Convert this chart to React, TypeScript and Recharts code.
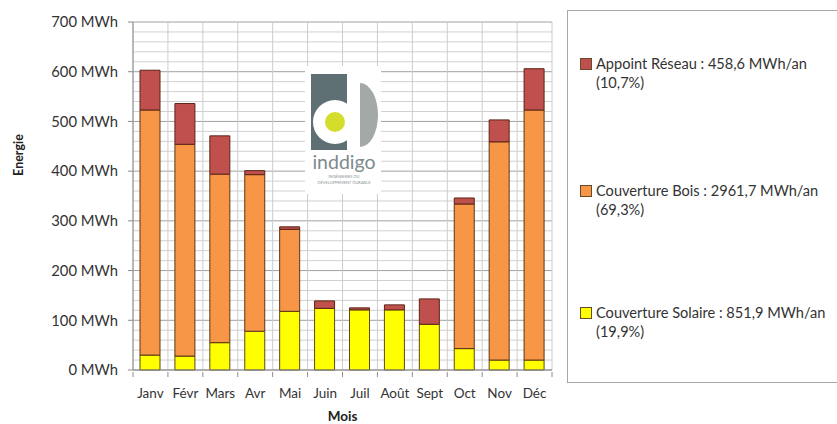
import React from 'react';
import { BarChart, Bar, XAxis, YAxis, CartesianGrid } from 'recharts';

// --- données ---
const months = ['Janv', 'Févr', 'Mars', 'Avr', 'Mai', 'Juin', 'Juil', 'Août', 'Sept', 'Oct', 'Nov', 'Déc'];
const solaire = [30, 28, 55, 78, 118, 124, 121, 121, 92, 43, 20, 20];
const bois = [493, 426, 339, 315, 165, 0, 0, 0, 0, 291, 439, 503];
const reseau = [80, 82, 77, 8, 5, 15, 4, 10, 51, 12, 44, 83];

const yTicks = [0, 100, 200, 300, 400, 500, 600, 700];
const minorLines = Array.from({ length: 36 }, (_, i) => i * 20);

const legendItems = [
  { label: 'Appoint Réseau : 458,6 MWh/an', pct: '(10,7%)', color: '#c0504d' },
  { label: 'Couverture Bois : 2961,7 MWh/an', pct: '(69,3%)', color: '#f79646' },
  { label: 'Couverture Solaire : 851,9 MWh/an', pct: '(19,9%)', color: '#ffff00' },
];

const data = months.map((m, i) => ({ mois: m, solaire: solaire[i], bois: bois[i], reseau: reseau[i] }));

const FONT = 'Lato, "Open Sans", sans-serif';

// grille secondaire tous les 20 MWh
const minorGrid = ({ offset }: any) =>
  minorLines.map((v) => offset.top + offset.height * (1 - v / yTicks[yTicks.length - 1]));

// lignes verticales aux limites des catégories
const boundaryGrid = ({ offset }: any) =>
  Array.from({ length: months.length + 1 }, (_, i) => offset.left + (i * offset.width) / months.length);

// lignes tous les 100 MWh plus foncées
const GridLine = (p: any) => (
  <line x1={p.x1} y1={p.y1} x2={p.x2} y2={p.y2}
    stroke={yTicks.includes(minorLines[p.index]) ? '#a0a0a0' : '#d0d0d0'} strokeWidth={1} />
);

const MonthTick = (props: any) => {
  const { x, y, payload, index } = props;
  const half = payload && payload.offset ? payload.offset : 17.5;
  return (
    <g>
      <line x1={x - half} x2={x - half} y1={y} y2={y + 5} stroke="#8c8c8c" />
      {index === months.length - 1 && <line x1={x + half} x2={x + half} y1={y} y2={y + 5} stroke="#8c8c8c" />}
      <text x={x} y={y + 16} dy="0.71em" textAnchor="middle" fontFamily={FONT} fontSize={13.5} fill="#333">
        {payload.value}
      </text>
    </g>
  );
};

const EnergieLabel = () => (
  <text x={18} y={155} transform="rotate(-90 18 155)" textAnchor="middle" dominantBaseline="central"
    fontFamily={FONT} fontSize={12.5} fontWeight={700} fill="#222">
    Energie
  </text>
);

const LegendBox = () => (
  <div style={{ position: 'absolute', left: 567, top: 10, width: 280, height: 373, border: '1px solid #a8a8a8', boxSizing: 'border-box', fontFamily: FONT, background: '#fff' }}>
    {legendItems.map((it, i) => (
      <div key={it.label} style={{ position: 'absolute', left: 12, top: [43, 170, 292][i], fontSize: 14.6, color: '#333', lineHeight: '19px', whiteSpace: 'nowrap' }}>
        <div style={{ display: 'flex', alignItems: 'center' }}>
          <span style={{ display: 'inline-block', width: 10, height: 10, background: it.color, border: '1px solid #6b4a2a', marginRight: 4 }} />
          {it.label}
        </div>
        <div style={{ paddingLeft: 16 }}>{it.pct}</div>
      </div>
    ))}
  </div>
);

const Logo = () => (
  <svg width={76} height={128} style={{ position: 'absolute', left: 305, top: 66 }}>
    <rect x={0} y={0} width={76} height={128} fill="#fff" />
    <rect x={6} y={8} width={36} height={76} fill="#5f7074" />
    <path d="M 55 17 A 18 32 0 0 1 55 81 Z" fill="#a3a9a8" />
    <circle cx={30} cy={56} r={22} fill="#fff" />
    <circle cx={30} cy={56} r={10} fill="#d4dc2c" />
    <text x={39} y={103} textAnchor="middle" fontFamily={FONT} fontSize={19.5} fill="#7d8a8b">inddigo</text>
    <text x={39} y={112} textAnchor="middle" fontFamily={FONT} fontSize={4} fill="#8a9394">INGÉNIERIES DU</text>
    <text x={39} y={118} textAnchor="middle" fontFamily={FONT} fontSize={4} fill="#8a9394">DÉVELOPPEMENT DURABLE</text>
  </svg>
);

const App: React.FC = () => {
  return (
    <div style={{ position: 'absolute', left: 0, top: 0, width: 837, height: 424, background: '#fff', overflow: 'hidden' }}>
      <BarChart width={560} height={424} data={data} margin={{ top: 22, right: 8, left: 38, bottom: 24 }} barSize={20}>
        <CartesianGrid horizontalCoordinatesGenerator={minorGrid} verticalCoordinatesGenerator={boundaryGrid}
          horizontal={GridLine} vertical={{ stroke: '#999' }} />
        <XAxis dataKey="mois" height={30} axisLine={{ stroke: '#8c8c8c' }} tickLine={false} tickSize={0}
          tick={<MonthTick />} interval={0}
          label={{ value: 'Mois', position: 'insideBottom', offset: -21, fontFamily: FONT, fontSize: 13.5, fontWeight: 700, fill: '#222' }} />
        <YAxis domain={[0, 700]} ticks={yTicks} width={95} axisLine={{ stroke: '#8c8c8c' }} tickLine={{ stroke: '#8c8c8c' }}
          tickSize={5} tickMargin={10} tickFormatter={(v: number) => `${v} MWh`}
          tick={{ fontFamily: FONT, fontSize: 14.8, fill: '#333' }}
          label={{ content: () => <EnergieLabel /> }} />
        <Bar dataKey="solaire" stackId="a" fill="#ffff00" stroke="#5b4a14" strokeWidth={1} isAnimationActive={false} />
        <Bar dataKey="bois" stackId="a" fill="#f79646" stroke="#5b3414" strokeWidth={1} isAnimationActive={false} />
        <Bar dataKey="reseau" stackId="a" fill="#c0504d" stroke="#5b2414" strokeWidth={1} isAnimationActive={false} />
      </BarChart>
      <LegendBox />
      <Logo />
    </div>
  );
};

export default App;
